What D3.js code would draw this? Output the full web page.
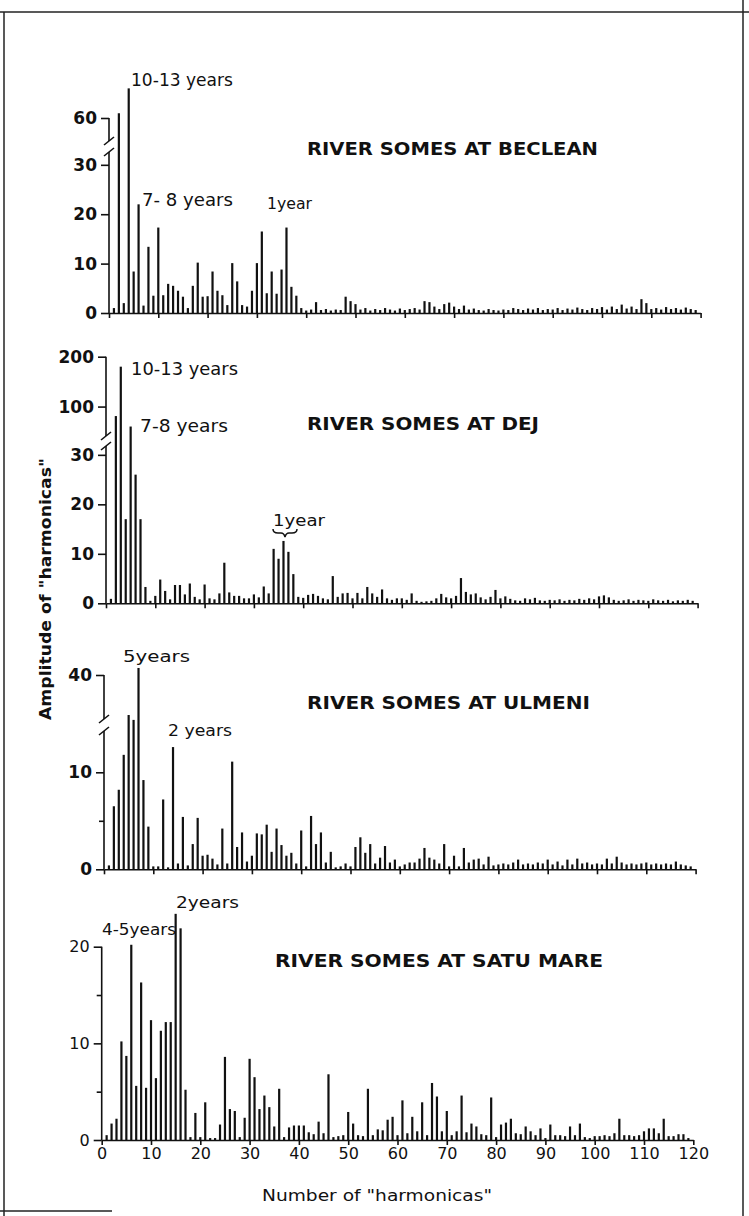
<!DOCTYPE html>
<html><head><meta charset="utf-8">
<script src="https://d3js.org/d3.v7.min.js"></script>
<style>
body { margin: 0; background: #fff; }
text { font-family: "DejaVu Sans", sans-serif; fill: #111; }
.axis path, .axis line { stroke: #111; stroke-width: 1.6; }
</style>
</head><body>
<svg id="chart" width="749" height="1216"></svg>
<script>
// amplitude per harmonic, harmonic 1 .. 119
var beclean = [1,64,2,85,8.4,22,1.5,13.4,3.5,17.3,
  3.6,5.9,5.5,4.5,3.3,1,5.5,10.2,3.3,3.4,
  8.4,4.5,3.6,1.6,10.1,6.4,1.6,1.3,4.5,10.1,
  16.5,4,8.4,3.9,8.8,17.3,5.3,3.5,1,0.5,
  0.7,2.2,0.6,0.8,0.5,0.7,0.6,3.3,2.4,1.8,
  0.7,1,0.5,0.8,0.6,1,0.7,0.5,0.9,0.6,
  0.8,1,0.7,2.4,2.2,1.3,0.8,1.8,2.1,1.3,
  0.8,1.5,0.7,0.9,0.6,0.5,0.8,0.6,0.5,0.7,
  0.6,1,0.8,0.6,0.9,0.7,1,0.6,0.8,0.7,
  1,0.6,0.9,0.7,1.1,0.8,0.6,1,0.8,1.2,
  0.7,1.3,0.8,1.7,0.9,1.3,0.8,2.8,2,0.8,
  1,0.7,1.2,0.8,1,0.7,1.1,0.8,0.6];
var dej = [0.9,81,180,17,60,26,17,3.3,0.5,1.5,
  4.8,2.5,0.8,3.7,3.7,1.8,4,1.3,0.8,3.8,
  1,0.8,2,8.2,2.2,1.5,1.5,1,1,1.8,
  1.2,3.4,2,11,9,12.6,10.4,5.9,1.3,1.1,
  1.7,1.9,1.5,1,0.8,5.5,1.3,2,2.1,1,
  2.1,1,3.3,2,1.3,2.8,1,0.7,1,1,
  0.7,2,0.5,0.3,0.4,0.5,1,1.9,1.2,1,
  1.5,5.1,2.3,1.8,2,1.2,0.8,1.3,2.7,1,
  1.4,0.9,0.6,0.5,1,0.8,1.1,0.6,0.5,0.7,
  0.6,0.8,0.5,0.7,0.6,0.9,0.7,1,0.8,1.4,
  1.6,1.2,0.7,0.5,0.6,0.8,0.5,0.7,0.6,0.5,
  0.8,0.6,0.5,0.7,0.4,0.6,0.5,0.7,0.5];
var ulmeni = [0.4,6.5,8.2,11.8,19.5,17,43.6,9.2,4.4,0.3,
  0.3,7.2,0.2,12.6,0.6,5.4,0.4,2.6,5.3,1.4,
  1.5,1.1,0.5,4.2,0.6,11.1,2.3,3.8,0.8,1.4,
  3.7,3.6,4.6,1.8,4.2,2.5,1.4,1.7,0.6,4,
  0.3,5.5,2.6,3.8,0.7,1.8,0.2,0.3,0.6,0.3,
  2.3,3.3,1.7,2.6,0.6,1.2,2.4,0.7,1,0.3,
  0.5,0.7,0.7,1.1,2.2,1.2,1,0.6,2.6,0.3,
  1.4,0.3,2.2,0.7,1,1.1,0.5,1.3,0.4,0.5,
  0.6,0.5,0.7,1,0.5,0.6,0.5,0.7,0.6,1,
  0.5,0.8,0.4,1,0.5,1.1,0.6,0.7,0.5,0.6,
  0.5,1.1,0.6,1.3,0.7,0.5,0.6,0.5,0.6,0.7,
  0.5,0.6,0.5,0.6,0.5,0.8,0.5,0.4,0.3];
var satuMare = [0.5,1.7,2.2,10.2,8.7,20.2,5.6,16.3,5.4,12.4,
  6.4,11.3,12.2,12.2,23.4,21.9,5.2,0.3,2.8,0.3,
  3.9,0.2,0.2,1.6,8.6,3.2,3,0.3,2.3,8.4,
  6.5,3.2,4.6,3.4,1.4,5.3,0.3,1.3,1.5,1.5,
  1.5,0.8,0.6,1.9,0.7,6.8,0.3,0.4,0.5,2.9,
  1.7,0.5,0.4,5.3,0.5,1.1,1,2.1,2.4,0.5,
  4.1,0.7,2.4,0.9,3.9,0.5,5.9,4.5,0.9,3,
  0.5,0.9,4.6,0.8,1.7,1.4,0.6,0.5,4.4,0.3,
  1.6,1.8,2.2,0.7,0.6,1.4,0.9,0.5,1.2,0.2,
  1.6,0.5,0.5,0.4,1.4,0.5,1.7,0.3,0.2,0.4,
  0.4,0.5,0.4,0.7,2.2,0.5,0.5,0.4,0.5,0.9,
  1.2,1.2,0.7,2.2,0.4,0.4,0.6,0.6,0.2];

var titles = ["RIVER  SOMES  AT  BECLEAN", "RIVER  SOMES  AT  DEJ",
              "RIVER  SOMES  AT  ULMENI", "RIVER  SOMES  AT  SATU  MARE"];
var xTicks = [0,10,20,30,40,50,60,70,80,90,100,110,120];
var yTicks = [[0,10,20,30,60], [0,10,20,30,100,200], [0,5,10,40], [0,5,10,15,20]];
var yTickLabels = [[0,10,20,30,60], [0,10,20,30,100,200], [0,10,40], [0,10,20]];
var notes = [
  ["10-13 years", "7- 8 years", "1year"],
  ["10-13 years", "7-8 years", "1year"],
  ["5years", "2 years"],
  ["2years", "4-5years"]
];

// layout of each panel (scanned figure is slightly skewed, so x0 drifts)
var panels = [
  { v: beclean, x0: 109, dom: [0,33,60], rng: [313,150,118], gap: [141,152], bold: true,
    title: [307,155,291], notes: [[131,86,102,17],[142,206,91,17],[267,209,45,16]] },
  { v: dej, x0: 106, dom: [0,33,200], rng: [603.3,440,356.7], gap: [436,446], bold: true,
    title: [307,430,232], notes: [[131,375,107,17],[140,432,88,17],[273,526,52,16]] },
  { v: ulmeni, x0: 104, dom: [0,15,40], rng: [869.3,723.8,675], gap: [719,731], bold: true,
    title: [307,709,283], notes: [[123,662,67,16],[168,736,64,16]] },
  { v: satuMare, x0: 101.7, dom: [0,20], rng: [1140,946.7], gap: null, bold: false,
    title: [275,967,328], notes: [[176,908,63,16],[102,935,74,16]] }
];

var svg = d3.select("#chart");

// frame
var frame = svg.append("g").attr("stroke", "#222").attr("stroke-width", 1.5);
frame.append("line").attr("x1", 0).attr("x2", 749).attr("y1", 12).attr("y2", 12);
frame.append("line").attr("x1", 4).attr("x2", 4).attr("y1", 12).attr("y2", 1216);
frame.append("line").attr("x1", 743).attr("x2", 743).attr("y1", 0).attr("y2", 1216);
frame.append("line").attr("x1", 0).attr("x2", 112).attr("y1", 1211).attr("y2", 1211);

panels.forEach(function(p, k) {
  var x = d3.scaleLinear().domain([0,120]).range([p.x0, p.x0 + 591.6]);
  var y = d3.scaleLinear().domain(p.dom).range(p.rng);
  var base = y(0);
  var g = svg.append("g");

  g.selectAll("rect.bar")
    .data(p.v)
    .enter().append("rect")
    .attr("class", "bar")
    .attr("x", function(d,i) { return x(i+1) - 1.1; })
    .attr("width", 2.2)
    .attr("y", function(d) { return y(d); })
    .attr("height", function(d) { return base - y(d); })
    .attr("fill", "#111");

  // x axis
  var xa = g.append("g").attr("class", "axis")
    .attr("transform", "translate(0," + base + ")")
    .call(d3.axisBottom(x).tickValues(xTicks).tickSize(5).tickSizeOuter(0).tickPadding(3)
      .tickFormat(function(d) { return k == 3 ? d : ""; }));
  xa.selectAll("text").attr("font-size", 16).attr("font-family", "DejaVu Sans").attr("fill", "#111");

  // y axis, domain drawn by hand to leave the break
  var ya = g.append("g").attr("class", "axis")
    .attr("transform", "translate(" + p.x0 + ",0)")
    .call(d3.axisLeft(y).tickValues(yTicks[k]).tickSizeOuter(0).tickPadding(4)
      .tickSize(8)
      .tickFormat(function(d) { return yTickLabels[k].indexOf(d) >= 0 ? d : ""; }));
  ya.select(".domain").remove();
  ya.selectAll(".tick line").attr("x2", function(d) { return yTickLabels[k].indexOf(d) >= 0 ? -8 : -5; });
  ya.selectAll("text").attr("font-size", p.bold ? 17 : 16)
    .attr("font-weight", p.bold ? "bold" : "normal")
    .attr("font-family", "DejaVu Sans").attr("fill", "#111");

  var top = y(p.dom[p.dom.length-1]);
  var ax = g.append("g").attr("stroke", "#111").attr("stroke-width", 1.6).attr("fill", "none");
  if (p.gap) {
    ax.append("line").attr("x1", p.x0).attr("x2", p.x0).attr("y1", top).attr("y2", p.gap[0]);
    ax.append("line").attr("x1", p.x0).attr("x2", p.x0).attr("y1", p.gap[1]).attr("y2", base);
    ax.append("line").attr("x1", p.x0 - 5).attr("x2", p.x0 + 5).attr("y1", p.gap[0] + 4).attr("y2", p.gap[0] - 4);
    ax.append("line").attr("x1", p.x0 - 5).attr("x2", p.x0 + 5).attr("y1", p.gap[1] + 4).attr("y2", p.gap[1] - 4);
  } else {
    ax.append("line").attr("x1", p.x0).attr("x2", p.x0).attr("y1", top).attr("y2", base);
  }

  // title
  g.append("text")
    .attr("x", p.title[0]).attr("y", p.title[1])
    .attr("textLength", p.title[2]).attr("lengthAdjust", "spacingAndGlyphs")
    .attr("font-size", 18).attr("font-weight", "bold")
    .text(titles[k]);

  // period notes
  p.notes.forEach(function(n, j) {
    g.append("text")
      .attr("x", n[0]).attr("y", n[1])
      .attr("textLength", n[2]).attr("lengthAdjust", "spacingAndGlyphs")
      .attr("font-size", n[3])
      .text(notes[k][j]);
  });
});

// brace under "1year" (Dej)
svg.append("path")
  .attr("d", "M273,529 q0,4 5,4 h3 q3,0 4,4 q1,-4 4,-4 h3 q5,0 5,-4")
  .attr("fill", "none").attr("stroke", "#111").attr("stroke-width", 1.5);

// axis titles
svg.append("text")
  .attr("transform", "translate(51,720) rotate(-90)")
  .attr("textLength", 262).attr("lengthAdjust", "spacingAndGlyphs")
  .attr("font-size", 16).attr("font-weight", "bold")
  .text('Amplitude  of "harmonicas"');

svg.append("text")
  .attr("x", 262).attr("y", 1201)
  .attr("textLength", 230).attr("lengthAdjust", "spacingAndGlyphs")
  .attr("font-size", 16)
  .text('Number  of "harmonicas"');
</script>
</body></html>
